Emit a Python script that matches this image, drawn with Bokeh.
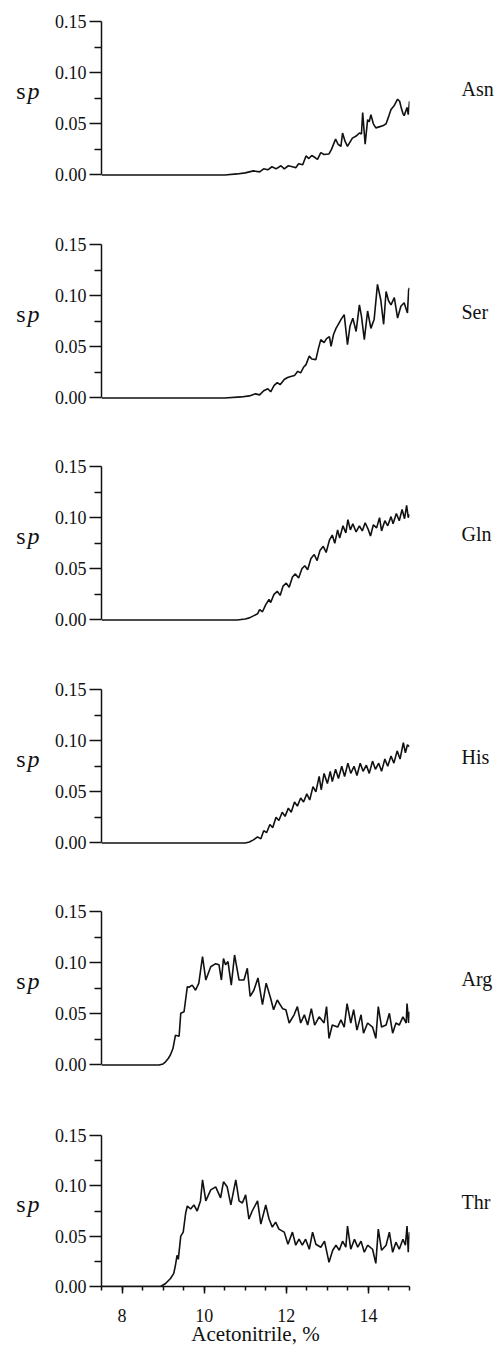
from bokeh.plotting import figure
from bokeh.layouts import column
from bokeh.models import Range1d, FixedTicker, LinearAxis
from bokeh.embed import file_html
from bokeh.resources import INLINE

# ---------------- data ----------------
NAMES = ["Asn", "Ser", "Gln", "His", "Arg", "Thr"]

asn_x = [7.5, 10.5, 10.8, 11.0, 11.2, 11.35, 11.45, 11.55, 11.65, 11.75, 11.87, 11.95, 12.05, 12.15,
         12.23, 12.3, 12.4, 12.48, 12.55, 12.62, 12.7, 12.76, 12.84, 12.92, 13.04, 13.1, 13.2, 13.26,
         13.33, 13.37, 13.43, 13.49, 13.55, 13.61, 13.7, 13.78, 13.83, 13.86, 13.92, 13.98, 14.02,
         14.06, 14.12, 14.18, 14.26, 14.35, 14.43, 14.5, 14.55, 14.63, 14.71, 14.76, 14.79, 14.84,
         14.87, 14.94, 14.97, 15.0]
asn_y = [0.0, 0.0, 0.001, 0.002, 0.004, 0.003, 0.006, 0.005, 0.008, 0.006, 0.009, 0.006, 0.009, 0.008,
         0.007, 0.011, 0.010, 0.0186, 0.016, 0.019, 0.017, 0.0153, 0.0218, 0.020, 0.0205, 0.025, 0.035, 0.030,
         0.028, 0.041, 0.033, 0.028, 0.032, 0.036, 0.038, 0.041, 0.040, 0.061, 0.030, 0.054, 0.052,
         0.059, 0.050, 0.046, 0.047, 0.048, 0.050, 0.058, 0.064, 0.068, 0.074, 0.072, 0.067, 0.060,
         0.058, 0.066, 0.059, 0.072]

ser_x = [7.5, 10.5, 10.9, 11.1, 11.25, 11.35, 11.45, 11.55, 11.62, 11.7, 11.78, 11.85, 11.95, 12.03,
         12.11, 12.2, 12.28, 12.35, 12.42, 12.48, 12.56, 12.62, 12.72, 12.78, 12.84, 12.92, 12.98, 13.05,
         13.09, 13.15, 13.21, 13.28, 13.33, 13.41, 13.49, 13.55, 13.62, 13.7, 13.78, 13.83, 13.9, 13.98,
         14.06, 14.14, 14.22, 14.3, 14.37, 14.43, 14.49, 14.55, 14.63, 14.71, 14.79, 14.87, 14.91, 14.95,
         14.98, 15.0]
ser_y = [0.0, 0.0, 0.001, 0.002, 0.004, 0.003, 0.007, 0.009, 0.006, 0.012, 0.015, 0.013, 0.018, 0.020,
         0.021, 0.022, 0.026, 0.0245, 0.030, 0.0326, 0.041, 0.038, 0.0375, 0.048, 0.057, 0.054, 0.058, 0.060,
         0.0505, 0.062, 0.068, 0.073, 0.0766, 0.0815, 0.052, 0.070, 0.078, 0.065, 0.091, 0.080, 0.057, 0.085,
         0.068, 0.077, 0.111, 0.096, 0.072, 0.104, 0.095, 0.091, 0.098, 0.078, 0.0896, 0.093, 0.088, 0.083,
         0.106, 0.1075]

gln_x = [7.5, 10.8, 11.0, 11.1, 11.2, 11.3, 11.35, 11.42, 11.5, 11.58, 11.62, 11.7, 11.78, 11.85, 11.92,
         12.0, 12.07, 12.15, 12.22, 12.3, 12.38, 12.45, 12.52, 12.6, 12.68, 12.75, 12.82, 12.9, 12.97,
         13.05, 13.12, 13.18, 13.25, 13.3, 13.38, 13.45, 13.5, 13.56, 13.62, 13.7, 13.78, 13.85, 13.92,
         14.0, 14.05, 14.12, 14.2, 14.27, 14.32, 14.4, 14.47, 14.55, 14.6, 14.68, 14.75, 14.82, 14.88,
         14.93, 14.97, 15.0]
gln_y = [0.0, 0.0, 0.001, 0.002, 0.004, 0.006, 0.010, 0.008, 0.015, 0.020, 0.017, 0.025, 0.028, 0.024, 0.033,
         0.036, 0.032, 0.042, 0.045, 0.041, 0.050, 0.053, 0.049, 0.060, 0.064, 0.058, 0.068, 0.072, 0.066,
         0.078, 0.083, 0.075, 0.088, 0.080, 0.092, 0.085, 0.098, 0.088, 0.094, 0.086, 0.092, 0.087, 0.095,
         0.088, 0.082, 0.093, 0.090, 0.100, 0.087, 0.097, 0.092, 0.101, 0.094, 0.104, 0.097, 0.108, 0.099,
         0.112, 0.100, 0.103]

his_x = [7.5, 10.8, 11.0, 11.1, 11.2, 11.3, 11.38, 11.45, 11.52, 11.6, 11.67, 11.75, 11.82, 11.9, 11.97,
         12.05, 12.12, 12.2, 12.27, 12.35, 12.42, 12.5, 12.57, 12.65, 12.72, 12.8, 12.85, 12.92, 13.0,
         13.07, 13.12, 13.2, 13.27, 13.35, 13.42, 13.5, 13.57, 13.65, 13.72, 13.8, 13.87, 13.95, 14.02,
         14.1, 14.17, 14.25, 14.32, 14.4, 14.47, 14.55, 14.62, 14.7, 14.77, 14.85, 14.9, 14.95, 15.0]
his_y = [0.0, 0.0, 0.0, 0.001, 0.003, 0.006, 0.004, 0.012, 0.010, 0.018, 0.015, 0.025, 0.022, 0.030, 0.026,
         0.034, 0.030, 0.040, 0.036, 0.044, 0.040, 0.048, 0.042, 0.055, 0.050, 0.065, 0.052, 0.068, 0.058,
         0.070, 0.060, 0.072, 0.063, 0.075, 0.065, 0.078, 0.068, 0.075, 0.066, 0.078, 0.070, 0.076, 0.068,
         0.080, 0.072, 0.078, 0.070, 0.082, 0.075, 0.085, 0.078, 0.090, 0.082, 0.098, 0.088, 0.096, 0.094]

arg_x = [7.5, 8.9, 9.0, 9.06, 9.12, 9.18, 9.24, 9.3, 9.39, 9.43, 9.51, 9.59, 9.63, 9.71, 9.79, 9.87,
         9.96, 10.04, 10.16, 10.28, 10.36, 10.42, 10.47, 10.52, 10.58, 10.66, 10.74, 10.85, 10.97, 11.05,
         11.12, 11.21, 11.31, 11.42, 11.51, 11.62, 11.69, 11.78, 11.91, 11.99, 12.07, 12.19, 12.27, 12.35,
         12.44, 12.52, 12.61, 12.69, 12.8, 12.92, 12.98, 13.04, 13.12, 13.25, 13.33, 13.41, 13.48, 13.57,
         13.64, 13.72, 13.82, 13.88, 13.98, 14.1, 14.18, 14.24, 14.32, 14.43, 14.51, 14.59, 14.67, 14.75,
         14.84, 14.92, 14.94, 14.98, 15.0]
arg_y = [0.0, 0.0, 0.001, 0.003, 0.006, 0.010, 0.016, 0.029, 0.028, 0.0505, 0.052, 0.0765, 0.076, 0.078, 0.073, 0.080,
         0.106, 0.083, 0.096, 0.099, 0.098, 0.083, 0.104, 0.098, 0.101, 0.078, 0.1075, 0.083, 0.083, 0.0945,
         0.067, 0.073, 0.085, 0.059, 0.080, 0.065, 0.054, 0.0635, 0.055, 0.054, 0.041, 0.049, 0.057, 0.041,
         0.049, 0.039, 0.055, 0.039, 0.047, 0.041, 0.057, 0.026, 0.039, 0.037, 0.044, 0.037, 0.060, 0.041,
         0.054, 0.034, 0.049, 0.031, 0.041, 0.037, 0.026, 0.057, 0.037, 0.039, 0.0505, 0.031, 0.041, 0.039,
         0.047, 0.041, 0.060, 0.041, 0.052]

thr_x = [7.5, 8.94, 9.06, 9.18, 9.26, 9.3, 9.34, 9.37, 9.43, 9.49, 9.55, 9.59, 9.67, 9.75, 9.83, 9.91,
         9.96, 10.04, 10.16, 10.28, 10.4, 10.47, 10.56, 10.65, 10.77, 10.85, 10.93, 11.01, 11.09, 11.17,
         11.3, 11.38, 11.5, 11.58, 11.66, 11.74, 11.82, 11.95, 12.04, 12.15, 12.23, 12.31, 12.39, 12.47,
         12.56, 12.64, 12.72, 12.84, 12.93, 13.04, 13.13, 13.21, 13.29, 13.37, 13.45, 13.49, 13.57, 13.66,
         13.74, 13.82, 13.9, 13.98, 14.1, 14.18, 14.24, 14.32, 14.43, 14.51, 14.59, 14.67, 14.75, 14.84,
         14.9, 14.94, 14.97, 15.0]
thr_y = [0.0, 0.0, 0.003, 0.008, 0.013, 0.021, 0.031, 0.027, 0.050, 0.054, 0.073, 0.080, 0.077, 0.081, 0.075, 0.085,
         0.106, 0.085, 0.096, 0.099, 0.088, 0.104, 0.099, 0.081, 0.106, 0.085, 0.083, 0.091, 0.067, 0.075,
         0.085, 0.062, 0.081, 0.067, 0.059, 0.064, 0.057, 0.054, 0.042, 0.054, 0.041, 0.047, 0.041, 0.047,
         0.037, 0.054, 0.042, 0.039, 0.045, 0.024, 0.036, 0.041, 0.036, 0.045, 0.039, 0.060, 0.037, 0.047,
         0.039, 0.045, 0.034, 0.041, 0.037, 0.023, 0.057, 0.036, 0.041, 0.054, 0.034, 0.044, 0.037, 0.047,
         0.041, 0.060, 0.034, 0.054]

SERIES_X = [asn_x, ser_x, gln_x, his_x, arg_x, thr_x]
SERIES_Y = [asn_y, ser_y, gln_y, his_y, arg_y, thr_y]

Y_TICKS = [0.0, 0.05, 0.10, 0.15]
Y_TICK_LABELS = ["0.00", "0.05", "0.10", "0.15"]
Y_MINOR = [0.025, 0.075, 0.125]
X_TICKS = [8, 10, 12, 14]
X_TICK_LABELS = ["8", "10", "12", "14"]
X_MINOR = [7.5, 8.0, 8.5, 9.0, 9.5, 10.0, 10.5, 11.0, 11.5, 12.0, 12.5, 13.0, 13.5, 14.0, 14.5, 15.0]
X_LABEL = "Acetonitrile, %"
Y_LABEL_S = "s"
Y_LABEL_P = "p"
Y_LABEL_POS = 0.082   # vertical position of the "sp" label (data units)
NAME_POS = 0.084      # vertical position of the amino-acid names (data units)

# ---------------- style / layout ----------------
SERIF = "Liberation Serif"
INK = "#111111"
FIG_H = [232, 222, 223, 222, 223, 226]
TOP_B = [21, 12, 12, 12, 12, 13]


def bare_axis(axis):
    axis.axis_line_color = None
    axis.major_tick_line_color = None
    axis.minor_tick_line_color = None
    axis.major_tick_out = 0
    axis.major_tick_in = 0
    axis.minor_tick_out = 0
    axis.minor_tick_in = 0
    axis.major_label_text_color = INK
    axis.major_label_text_font = SERIF


figs = []
n = len(NAMES)
for i, (name, xs, ys) in enumerate(zip(NAMES, SERIES_X, SERIES_Y)):
    last = (i == n - 1)
    ystart = 0.0 if last else -0.0025
    frame_h = 153 if last else 156
    p = figure(width=497, height=FIG_H[i],
               x_range=Range1d(7.5, 15.0), y_range=Range1d(ystart, 0.15),
               output_backend="svg", toolbar_location=None,
               x_axis_location="below" if last else None,
               min_border_left=101, min_border_right=88,
               min_border_top=TOP_B[i], min_border_bottom=FIG_H[i] - TOP_B[i] - frame_h)
    p.outline_line_color = None
    p.background_fill_color = "white"
    p.border_fill_color = "white"
    p.xgrid.visible = False
    p.ygrid.visible = False

    ya = p.yaxis[0]
    ya.ticker = FixedTicker(ticks=Y_TICKS, minor_ticks=Y_MINOR)
    ya.major_label_overrides = dict(zip(Y_TICKS, Y_TICK_LABELS))
    ya.bounds = (0.0, 0.15)
    ya.major_tick_out = 12
    ya.major_tick_in = 0
    ya.minor_tick_out = 7
    ya.minor_tick_in = 0
    for a in ["axis_line", "major_tick_line", "minor_tick_line"]:
        setattr(ya, a + "_width", 1.5)
        setattr(ya, a + "_color", INK)
    ya.major_label_text_font = SERIF
    ya.major_label_text_font_size = "18px"
    ya.major_label_text_color = INK
    ya.major_label_standoff = 3

    # "sp" label: italic p then upright s, as two outer label-only axes
    ax_p = LinearAxis(ticker=FixedTicker(ticks=[Y_LABEL_POS], minor_ticks=[]),
                      major_label_overrides={Y_LABEL_POS: Y_LABEL_P})
    bare_axis(ax_p)
    ax_p.major_label_text_font_style = "italic"
    ax_p.major_label_text_font_size = "24px"
    ax_p.major_label_standoff = 12
    p.add_layout(ax_p, "left")
    ax_s = LinearAxis(ticker=FixedTicker(ticks=[Y_LABEL_POS], minor_ticks=[]),
                      major_label_overrides={Y_LABEL_POS: Y_LABEL_S})
    bare_axis(ax_s)
    ax_s.major_label_text_font_size = "24px"
    ax_s.major_label_standoff = -1
    p.add_layout(ax_s, "left")

    # amino-acid name on the right
    ax_n = LinearAxis(ticker=FixedTicker(ticks=[NAME_POS], minor_ticks=[]),
                      major_label_overrides={NAME_POS: name})
    bare_axis(ax_n)
    ax_n.major_label_text_font_size = "20px"
    ax_n.major_label_standoff = 52
    p.add_layout(ax_n, "right")

    if last:
        xa = p.xaxis[0]
        xa.ticker = FixedTicker(ticks=X_TICKS, minor_ticks=X_MINOR)
        xa.major_label_overrides = dict(zip(X_TICKS, X_TICK_LABELS))
        xa.bounds = (7.5, 15.0)
        xa.major_tick_out = 7
        xa.major_tick_in = 0
        xa.minor_tick_out = 4
        xa.minor_tick_in = 0
        for a in ["axis_line", "major_tick_line", "minor_tick_line"]:
            setattr(xa, a + "_width", 1.5)
            setattr(xa, a + "_color", INK)
        xa.major_label_text_font = SERIF
        xa.major_label_text_font_size = "18px"
        xa.major_label_text_color = INK
        xa.major_label_standoff = 15
        xa.axis_label = X_LABEL
        xa.axis_label_text_font = SERIF
        xa.axis_label_text_font_size = "21px"
        xa.axis_label_text_font_style = "normal"
        xa.axis_label_text_color = INK
        xa.axis_label_standoff = -3

    p.line(xs, ys, line_color=INK, line_width=1.6)
    figs.append(p)

layout = column(*figs, spacing=0)
open("out.html", "w").write(file_html(layout, INLINE))
